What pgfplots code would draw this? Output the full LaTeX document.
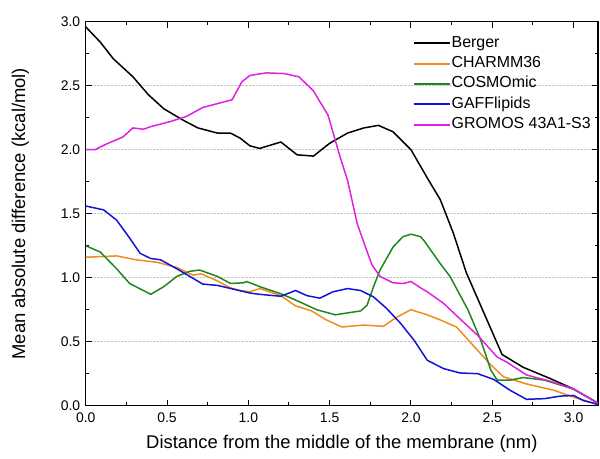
\documentclass[border=0pt]{standalone}
\usepackage{pgfplots}
\pgfplotsset{compat=1.18}
\usepackage{fontspec}
\setmainfont{Liberation Sans}

\definecolor{cBerger}{RGB}{0,0,0}
\definecolor{cCharmm}{RGB}{240,140,30}
\definecolor{cCosmo}{RGB}{30,135,30}
\definecolor{cGaff}{RGB}{20,20,215}
\definecolor{cGromos}{RGB}{220,35,225}

\begin{document}
\begin{tikzpicture}
\begin{axis}[
   scale only axis,
   width=512.3bp, height=384bp,
   xmin=0, xmax=3.15,
   ymin=0, ymax=3.0,
   xtick={0,0.5,1.0,1.5,2.0,2.5,3.0},
   ytick={0,0.5,1.0,1.5,2.0,2.5,3.0},
   minor x tick num=1, minor y tick num=1,
   tick align=inside,
   major tick length=6bp, minor tick length=3.5bp,
   tick style={black, line width=1bp},
   axis line style={line width=1.1bp},
   /pgf/number format/assume math mode=true,
   /pgf/number format/fixed,
   /pgf/number format/fixed zerofill,
   /pgf/number format/precision=1,
   ticklabel style={font=\fontsize{14}{16}\selectfont},
   xticklabel style={yshift=-4bp},
   yticklabel style={xshift=-2bp},
   ymajorgrids,
   grid style={densely dotted, black!22, line width=0.8bp},
   xlabel={Distance from the middle of the membrane (nm)},
   ylabel={Mean absolute difference (kcal/mol)},
   label style={font=\fontsize{18.5}{22}\selectfont},
   xlabel style={yshift=-5bp},
   ylabel style={yshift=25bp},
   legend cell align=left,
   legend style={
      at={(0.632,0.972)}, anchor=north west,
      draw=none, fill=none,
      font=\fontsize{16}{18}\selectfont,
      nodes={inner sep=1bp, text height=11.5bp, text depth=3.5bp},
      row sep=3.4bp
   },
   legend image code/.code={\draw[#1, line width=2bp] (0bp,0bp) -- (36bp,0bp);},
]
% Berger
\addplot[cBerger, line width=1.5bp] coordinates {
 (0,2.96) (0.09,2.84) (0.17,2.71) (0.29,2.57) (0.385,2.43) (0.48,2.32)
 (0.60,2.23) (0.69,2.17) (0.81,2.13) (0.89,2.13) (0.95,2.09) (1.01,2.03)
 (1.07,2.01) (1.20,2.06) (1.30,1.96) (1.40,1.95) (1.50,2.05) (1.61,2.13)
 (1.71,2.17) (1.80,2.19) (1.89,2.14) (2.00,2.00) (2.10,1.78) (2.18,1.61)
 (2.26,1.35) (2.34,1.04) (2.45,0.72) (2.56,0.40) (2.69,0.30) (2.86,0.21)
 (3.00,0.13) (3.15,0.02)
};
\addlegendentry{Berger}
% CHARMM36
\addplot[cCharmm, line width=1.5bp] coordinates {
 (0,1.16) (0.19,1.17) (0.31,1.14) (0.44,1.12) (0.56,1.08) (0.66,1.02)
 (0.71,1.03) (0.81,0.975) (0.89,0.92) (0.95,0.90) (1.01,0.89) (1.07,0.915)
 (1.20,0.86) (1.29,0.78) (1.39,0.74) (1.48,0.67) (1.575,0.615) (1.71,0.63)
 (1.83,0.62) (1.91,0.69) (2.00,0.75) (2.10,0.71) (2.18,0.67) (2.28,0.615)
 (2.39,0.46) (2.49,0.32) (2.57,0.225) (2.71,0.17) (2.88,0.12) (2.98,0.075)
 (3.15,0.01)
};
\addlegendentry{CHARMM36}
% COSMOmic
\addplot[cCosmo, line width=1.5bp] coordinates {
 (0,1.25) (0.09,1.20) (0.19,1.07) (0.27,0.955) (0.40,0.87) (0.48,0.93)
 (0.56,1.01) (0.64,1.05) (0.70,1.06) (0.81,1.01) (0.89,0.955) (0.97,0.96)
 (0.99,0.97) (1.07,0.93) (1.20,0.875) (1.30,0.82) (1.42,0.75) (1.535,0.71)
 (1.61,0.725) (1.69,0.74) (1.73,0.785) (1.77,0.93) (1.81,1.06) (1.89,1.24)
 (1.95,1.32) (2.00,1.34) (2.06,1.32) (2.08,1.29) (2.18,1.11) (2.24,1.01)
 (2.35,0.75) (2.43,0.51) (2.49,0.28) (2.53,0.20) (2.61,0.20) (2.69,0.22)
 (2.82,0.20) (3.00,0.13) (3.15,0.02)
};
\addlegendentry{COSMOmic}
% GAFFlipids
\addplot[cGaff, line width=1.5bp] coordinates {
 (0,1.56) (0.11,1.53) (0.19,1.45) (0.27,1.31) (0.335,1.19) (0.40,1.15)
 (0.46,1.14) (0.56,1.07) (0.64,1.01) (0.72,0.95) (0.81,0.94) (0.91,0.91)
 (1.01,0.88) (1.07,0.87) (1.20,0.855) (1.29,0.90) (1.36,0.86) (1.44,0.84)
 (1.52,0.89) (1.61,0.915) (1.69,0.90) (1.77,0.85) (1.85,0.76) (1.935,0.645)
 (2.02,0.51) (2.10,0.355) (2.20,0.29) (2.30,0.256) (2.41,0.25) (2.51,0.205)
 (2.61,0.12) (2.71,0.05) (2.82,0.055) (2.92,0.075) (3.00,0.08) (3.06,0.04)
 (3.15,0.01)
};
\addlegendentry{GAFFlipids}
% GROMOS 43A1-S3
\addplot[cGromos, line width=1.5bp] coordinates {
 (0,2.00) (0.057,2.00) (0.12,2.04) (0.23,2.10) (0.29,2.17) (0.355,2.16)
 (0.40,2.18) (0.52,2.22) (0.62,2.26) (0.72,2.33) (0.81,2.36) (0.90,2.39)
 (0.96,2.53) (1.01,2.58) (1.11,2.60) (1.22,2.595) (1.31,2.57) (1.40,2.46)
 (1.49,2.27) (1.565,1.94) (1.61,1.76) (1.67,1.42) (1.72,1.24) (1.76,1.10)
 (1.81,1.01) (1.89,0.96) (1.955,0.955) (2.00,0.97) (2.06,0.92) (2.10,0.89)
 (2.20,0.80) (2.30,0.68) (2.41,0.55) (2.53,0.38) (2.59,0.34) (2.71,0.24)
 (2.86,0.19) (3.00,0.13) (3.15,0.02)
};
\addlegendentry{GROMOS 43A1-S3}
\end{axis}
\pgfresetboundingbox
\path (-85.7bp,-53.3bp) rectangle (514.3bp,405.7bp);
\end{tikzpicture}
\end{document}
